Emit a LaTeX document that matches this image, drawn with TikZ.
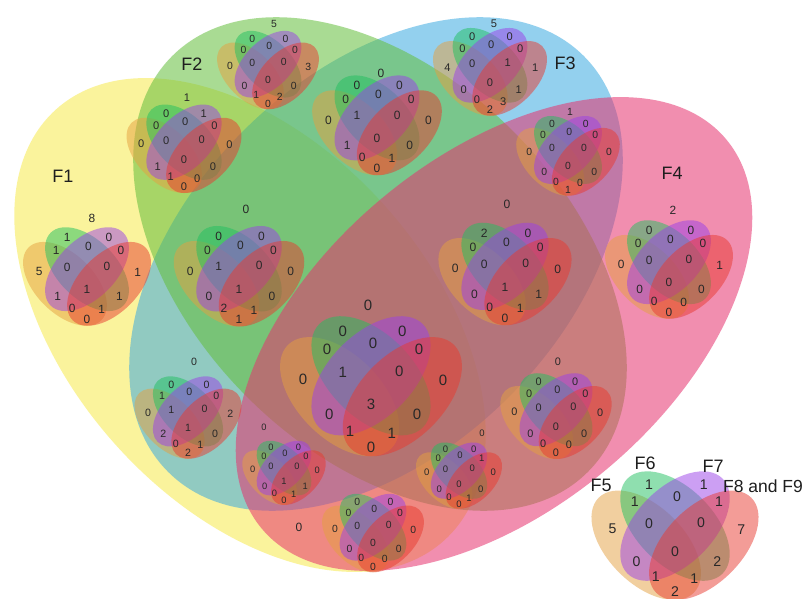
\documentclass[tikz,border=0pt]{standalone}
\usepackage{fontspec}
\setmainfont{Liberation Sans}
\definecolor{bigA}{RGB}{247,234,75}
\definecolor{bigB}{RGB}{100,190,60}
\definecolor{bigC}{RGB}{60,170,225}
\definecolor{bigD}{RGB}{230,50,110}
\definecolor{smA}{RGB}{229,160,64}
\definecolor{smB}{RGB}{32,192,96}
\definecolor{smC}{RGB}{155,64,232}
\definecolor{smD}{RGB}{232,58,48}
\definecolor{numcol}{RGB}{40,40,40}
\definecolor{labcol}{RGB}{30,30,30}
\tikzset{
  bigell/.style={fill opacity=0.55},
  svA/.style={fill=smA, fill opacity=0.5},
  svB/.style={fill=smB, fill opacity=0.5},
  svC/.style={fill=smC, fill opacity=0.5},
  svD/.style={fill=smD, fill opacity=0.5},
  num/.style={inner sep=0pt, text=numcol},
  biglab/.style={inner sep=0pt, text=labcol, font=\fontsize{18}{18}\selectfont},
}
\newcommand\svenn[5]{%
  \begin{scope}[shift={#2}, scale=#3]
    \fill[svA, rotate around={45:(-0.15,-0.035)}] (-0.15,-0.035) ellipse [x radius=0.35, y radius=0.2];
    \fill[svB, rotate around={45:(0,-0.135)}] (0,-0.135) ellipse [x radius=0.35, y radius=0.2];
    \fill[svC, rotate around={-45:(0,-0.135)}] (0,-0.135) ellipse [x radius=0.35, y radius=0.2];
    \fill[svD, rotate around={-45:(0.15,-0.035)}] (0.15,-0.035) ellipse [x radius=0.35, y radius=0.2];
    \foreach \px/\py [count=\i] in {-0.135/-0.35, 0.15/-0.35, -0.21/-0.26, 0.01/-0.29, 0.23/-0.26, -0.325/-0.12, -0.135/-0.15, 0.135/-0.155, 0.345/-0.115, 0/0, -0.2/0.05, 0.22/0.05, -0.1/0.13, 0.1/0.14, 0/0.205}
      \coordinate (#1-\i) at (\px,\py);
  \end{scope}
  \foreach \n [count=\i] in {#5}
    \node[num, font=\fontsize{#4}{#4}\selectfont] (#1-n\i) at (#1-\i) {\n};
}
\begin{document}
\begin{tikzpicture}[x=1pt,y=1pt,yscale=-1]
\useasboundingbox (0,0) rectangle (806,599);
\fill[white] (0,0) rectangle (806,599);
% big ellipses
\fill[bigA, bigell, rotate around={48:(250,325)}] (250,325) ellipse [x radius=290, y radius=180];
\fill[bigC, bigell, rotate around={-45:(376,264)}] (376,264) ellipse [x radius=294, y radius=188];
\fill[bigB, bigell, rotate around={45:(380,264)}] (380,264) ellipse [x radius=294, y radius=188];
\fill[bigD, bigell, rotate around={-40:(494,334)}] (494,334) ellipse [x radius=303, y radius=176];
% small venns: list order B,C,AB,BC,CD,A,ABC,BCD,D,ABCD,AC,BD,ACD,ABD,AD
\svenn{va}{(87,289)}{147}{11.9}{1,0,1,0,0,5,0,0,1,1,1,1,0,1,0}
\svenn{vb}{(184,160)}{132}{11.1}{0,1,0,0,0,0,0,0,0,0,1,0,1,0,0}
\svenn{vc}{(268,80)}{117}{10.4}{0,0,0,0,0,0,0,0,3,0,0,0,1,2,0}
\svenn{vd}{(377,138)}{149}{12}{0,0,0,0,0,0,1,0,0,0,1,0,0,1,0}
\svenn{ve}{(490,83)}{131}{11.1}{0,0,0,0,0,4,0,1,1,0,0,1,0,3,2}
\svenn{vf}{(568,166)}{119}{10.4}{0,0,0,0,0,0,0,0,0,0,0,0,0,0,1}
\svenn{vg}{(669,282)}{147}{11.9}{0,0,0,0,0,0,0,0,1,0,0,0,0,0,0}
\svenn{vh}{(239,289)}{150}{12}{0,0,0,0,0,0,1,0,0,1,0,0,2,1,1}
\svenn{vi}{(505,287)}{153}{12.1}{2,0,0,0,0,0,0,0,0,1,0,1,0,1,0}
\svenn{vj}{(371,404)}{209}{15}{0,0,0,0,0,0,1,0,0,3,0,0,1,1,0}
\svenn{vk}{(188,428)}{123}{10.6}{0,0,1,0,0,0,1,0,2,1,2,0,0,1,2}
\svenn{vl}{(556,427)}{128}{10.9}{0,0,0,0,0,0,0,0,0,0,0,0,0,0,0}
\svenn{vm}{(284,481)}{96}{9.3}{0,0,0,0,0,0,0,0,0,1,0,1,0,1,0}
\svenn{vn}{(459,484)}{99}{9.5}{0,0,0,0,1,0,0,0,0,0,0,0,0,1,0}
\svenn{vo}{(373,543)}{117}{10.4}{0,0,0,0,0,0,0,0,0,0,0,0,0,0,0}
\svenn{vp}{(675,552)}{192}{14.1}{1,1,1,0,1,5,0,0,7,0,0,2,1,1,2}
% outside counts
\node[num, font=\fontsize{11.9}{11.9}\selectfont] (va-out) at (92,218) {8};
\node[num, font=\fontsize{11.1}{11.1}\selectfont] (vb-out) at (187,98) {1};
\node[num, font=\fontsize{10.4}{10.4}\selectfont] (vc-out) at (274,24) {5};
\node[num, font=\fontsize{12}{12}\selectfont] (vd-out) at (381,73) {0};
\node[num, font=\fontsize{11.1}{11.1}\selectfont] (ve-out) at (494,24) {5};
\node[num, font=\fontsize{10.4}{10.4}\selectfont] (vf-out) at (570,112) {1};
\node[num, font=\fontsize{11.9}{11.9}\selectfont] (vg-out) at (673,210) {2};
\node[num, font=\fontsize{12}{12}\selectfont] (vh-out) at (246,209) {0};
\node[num, font=\fontsize{12.1}{12.1}\selectfont] (vi-out) at (507,204) {0};
\node[num, font=\fontsize{15}{15}\selectfont] (vj-out) at (368,305) {0};
\node[num, font=\fontsize{10.6}{10.6}\selectfont] (vk-out) at (194,362) {0};
\node[num, font=\fontsize{10.9}{10.9}\selectfont] (vl-out) at (558,362) {0};
\node[num, font=\fontsize{9.3}{9.3}\selectfont] (vm-out) at (264,427) {0};
\node[num, font=\fontsize{9.5}{9.5}\selectfont] (vn-out) at (482,433) {0};
\node[num, font=\fontsize{12}{12}\selectfont] (vo-out) at (299,527) {0};
% set labels
\node[biglab] (F1) at (63,176) {F1};
\node[biglab] (F2) at (192,64) {F2};
\node[biglab] (F3) at (565,63) {F3};
\node[biglab] (F4) at (672,173) {F4};
\node[biglab] (F5) at (601,485) {F5};
\node[biglab] (F6) at (645,463) {F6};
\node[biglab] (F7) at (713,466) {F7};
\node[biglab, font=\fontsize{17.5}{17.5}\selectfont] (F89) at (763,486) {F8 and F9};
\end{tikzpicture}
\end{document}
